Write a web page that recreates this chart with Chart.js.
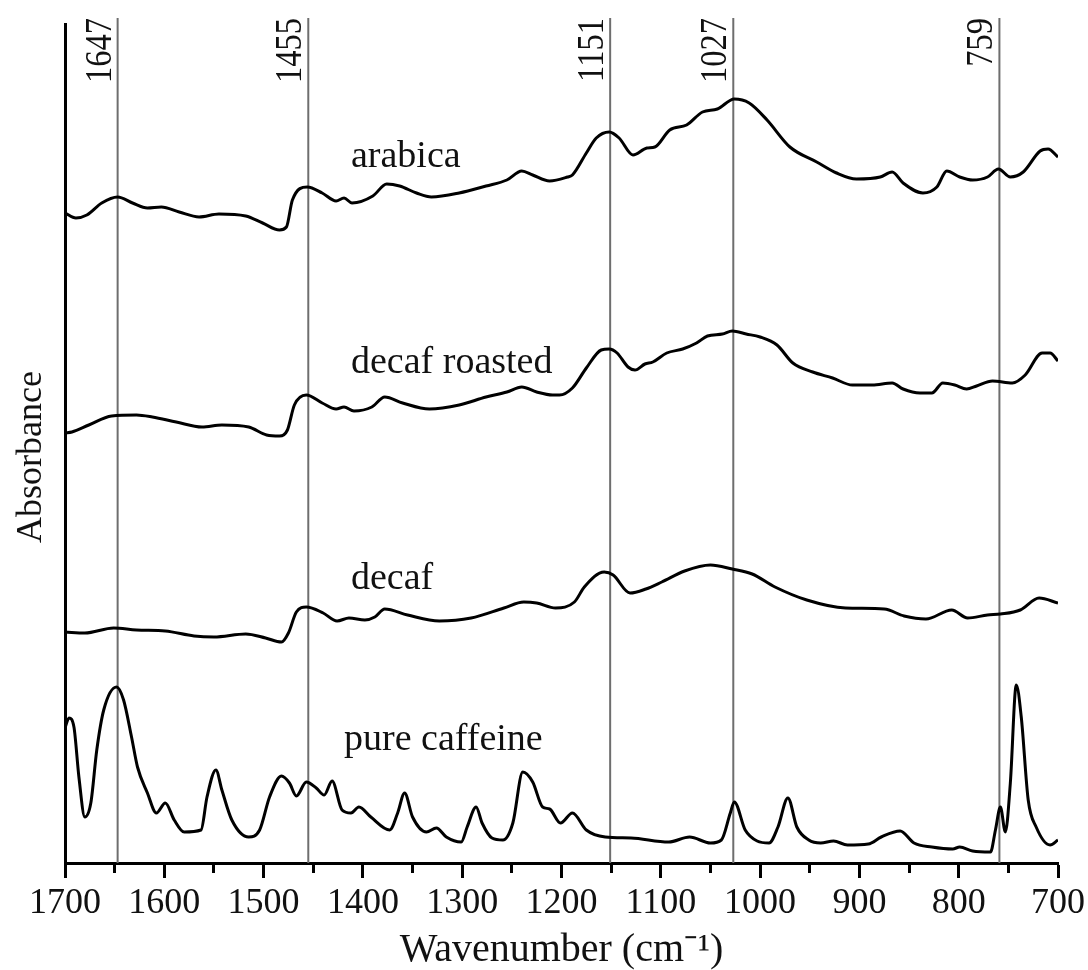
<!DOCTYPE html>
<html><head><meta charset="utf-8">
<script src="https://cdn.jsdelivr.net/npm/chart.js@4.4.0/dist/chart.umd.min.js"></script>
<style>html,body{margin:0;padding:0;background:#fff;}</style>
</head><body>
<canvas id="c" width="1088" height="970"></canvas>
<script>
// ---- data (wavenumber in cm-1, absorbance in arbitrary offset units) ----
const xTickValues = [700,750,800,850,900,950,1000,1050,1100,1150,1200,1250,1300,1350,1400,1450,1500,1550,1600,1650,1700];
const xTickLabels = ['700','','800','','900','','1000','','1100','','1200','','1300','','1400','','1500','','1600','','1700'];
const markerWn = [1647, 1455, 1151, 1027, 759];
const markerLabels = ['1647', '1455', '1151', '1027', '759'];
const seriesNames = ['arabica', 'decaf roasted', 'decaf', 'pure caffeine'];
const labelWn = [1412, 1412, 1412, 1419];
const labelAbs = [6.96, 4.90, 2.74, 1.13];

const arabicaWn = [1700,1689,1678,1663,1647,1632,1617,1603,1585,1565,1545,1518,1501,1484,1477,1471,1456,1441,1427,1419,1411,1390,1376,1363,1346,1331,1303,1276,1255,1240,1229,1212,1194,1189,1175,1165,1152,1142,1128,1114,1106,1091,1074,1058,1043,1026,1011,993,970,943,923,903,879,867,856,836,822,812,799,786,771,760,748,735,718,710,700];
const arabicaAbs = [6.50,6.45,6.48,6.60,6.66,6.60,6.55,6.56,6.51,6.46,6.49,6.47,6.40,6.33,6.36,6.63,6.76,6.70,6.62,6.65,6.60,6.67,6.79,6.77,6.70,6.66,6.70,6.77,6.83,6.92,6.88,6.82,6.86,6.88,7.10,7.25,7.31,7.25,7.08,7.15,7.16,7.33,7.38,7.51,7.54,7.64,7.60,7.43,7.16,7.01,6.90,6.84,6.86,6.91,6.80,6.70,6.76,6.92,6.86,6.83,6.86,6.94,6.86,6.91,7.12,7.14,7.06];

const roastedWn = [1700,1693,1676,1653,1628,1612,1588,1562,1542,1515,1497,1484,1476,1469,1457,1441,1427,1419,1409,1391,1378,1360,1333,1303,1276,1255,1240,1225,1209,1202,1189,1175,1160,1152,1144,1133,1126,1116,1108,1094,1078,1064,1053,1038,1028,1014,1000,983,967,947,927,907,887,867,856,839,827,816,804,792,782,766,746,733,716,708,700];
const roastedAbs = [4.30,4.31,4.38,4.47,4.48,4.46,4.41,4.36,4.38,4.36,4.28,4.27,4.33,4.58,4.68,4.60,4.54,4.56,4.52,4.56,4.66,4.60,4.54,4.58,4.66,4.71,4.76,4.71,4.68,4.68,4.75,4.95,5.13,5.14,5.10,4.96,4.93,4.99,5.01,5.10,5.14,5.20,5.27,5.29,5.32,5.29,5.26,5.18,5.00,4.91,4.85,4.78,4.78,4.80,4.74,4.70,4.70,4.80,4.78,4.74,4.77,4.82,4.80,4.88,5.10,5.10,5.02];

const decafWn = [1700,1680,1651,1628,1599,1570,1550,1518,1498,1482,1475,1467,1457,1440,1426,1414,1398,1388,1378,1355,1323,1291,1258,1238,1225,1206,1187,1177,1157,1148,1131,1115,1099,1076,1050,1028,1008,985,953,914,875,855,833,807,791,771,758,738,719,700];
const decafAbs = [2.31,2.30,2.35,2.33,2.32,2.27,2.26,2.29,2.25,2.21,2.30,2.51,2.56,2.50,2.42,2.45,2.43,2.46,2.54,2.48,2.42,2.45,2.55,2.61,2.60,2.55,2.61,2.76,2.91,2.88,2.70,2.74,2.81,2.92,2.98,2.94,2.89,2.76,2.63,2.55,2.54,2.47,2.44,2.53,2.45,2.48,2.49,2.53,2.65,2.60];

const caffeineWn = [1700,1696,1691,1686,1680,1674,1668,1661,1648,1641,1633,1627,1617,1608,1599,1590,1580,1563,1557,1548,1542,1532,1515,1504,1494,1482,1474,1467,1457,1447,1439,1431,1421,1412,1404,1392,1373,1365,1358,1350,1336,1326,1316,1301,1295,1286,1280,1270,1259,1249,1239,1229,1219,1212,1201,1189,1175,1156,1130,1092,1071,1050,1039,1030,1026,1015,1003,991,982,972,963,951,939,926,912,891,878,859,845,827,806,799,786,768,763,758,753,748,742,737,730,722,708,700];
const caffeineAbs = [1.35,1.45,1.36,0.86,0.46,0.60,1.13,1.53,1.76,1.63,1.26,0.96,0.70,0.50,0.60,0.43,0.31,0.33,0.66,0.93,0.73,0.43,0.26,0.33,0.66,0.87,0.80,0.67,0.81,0.75,0.68,0.82,0.53,0.50,0.56,0.46,0.33,0.50,0.70,0.46,0.31,0.35,0.26,0.21,0.36,0.56,0.40,0.25,0.23,0.40,0.91,0.81,0.56,0.54,0.40,0.50,0.33,0.26,0.25,0.21,0.26,0.20,0.23,0.50,0.61,0.33,0.22,0.20,0.36,0.65,0.36,0.23,0.20,0.22,0.18,0.19,0.26,0.32,0.20,0.16,0.14,0.16,0.12,0.11,0.33,0.56,0.31,0.80,1.78,1.46,0.63,0.36,0.18,0.23];

const yMin = 0, yMax = 8.39, markerTop = 8.45;

// ---- build datasets ----
const pairs = (xs, ys) => xs.map((x, i) => ({x: x, y: ys[i]}));
const curveSets = [
  [arabicaWn, arabicaAbs], [roastedWn, roastedAbs], [decafWn, decafAbs], [caffeineWn, caffeineAbs]
].map((s, i) => ({
  label: seriesNames[i], data: pairs(s[0], s[1]),
  borderColor: '#000', borderWidth: 3, pointRadius: 0, fill: false,
  cubicInterpolationMode: 'monotone', order: 0
}));
const markerSets = markerWn.map((m, i) => ({
  label: markerLabels[i], data: [{x: m, y: yMin}, {x: m, y: markerTop}],
  borderColor: '#6e6e6e', borderWidth: 2, pointRadius: 0, fill: false, clip: false, order: 1
}));

const SERIF = '"Liberation Serif", "Times New Roman", serif';
const labelFor = v => { const i = xTickValues.indexOf(Math.round(v)); return i >= 0 ? xTickLabels[i] : ''; };
const isMinor = c => !!(c.tick && labelFor(c.tick.value) === '');

const textPlugin = {
  id: 'texts',
  afterDatasetsDraw(chart) {
    const {ctx, scales: {x, y}} = chart;
    ctx.save();
    ctx.fillStyle = '#111';
    // curve names
    ctx.font = '38px ' + SERIF;
    ctx.textAlign = 'left';
    ctx.textBaseline = 'alphabetic';
    seriesNames.forEach((n, i) => {
      ctx.fillText(n, x.getPixelForValue(labelWn[i]), y.getPixelForValue(labelAbs[i]));
    });
    // marker labels (rotated)
    const topPx = y.getPixelForValue(markerTop);
    markerWn.forEach((m, i) => {
      const px = x.getPixelForValue(m);
      ctx.save();
      ctx.translate(px - 7, topPx);
      ctx.rotate(-Math.PI / 2);
      ctx.scale(0.88, 1);
      ctx.font = '37px ' + SERIF;
      ctx.textAlign = 'right';
      ctx.textBaseline = 'alphabetic';
      ctx.fillText(markerLabels[i], 0, 0);
      ctx.restore();
    });
    ctx.restore();
  }
};

new Chart(document.getElementById('c'), {
  type: 'line',
  data: {datasets: curveSets.concat(markerSets)},
  options: {
    responsive: false, animation: false, devicePixelRatio: 1,
    layout: {padding: {top: 24, right: 30, left: 0, bottom: 0}},
    plugins: {legend: {display: false}, tooltip: {enabled: false}},
    scales: {
      x: {
        type: 'linear', reverse: true, min: 700, max: 1700,
        afterBuildTicks: s => { s.ticks = xTickValues.map(v => ({value: v})); },
        ticks: {
          autoSkip: false, maxRotation: 0, minRotation: 0, padding: 4,
          color: '#111', font: {family: SERIF, size: 36},
          callback: v => labelFor(v)
        },
        grid: {
          display: true, drawOnChartArea: false, drawTicks: true,
          tickLength: 15, tickWidth: 3, tickColor: '#000',
          tickBorderDash: c => (isMinor(c) ? [8, 200] : [])
        },
        border: {display: true, width: 3, color: '#000'},
        title: {display: true, text: 'Wavenumber (cm\u207B\u00B9)', color: '#111',
          font: {family: SERIF, size: 40, lineHeight: 1}, padding: {top: 0, bottom: 0}},
        afterFit: s => { s.height = 107; }
      },
      y: {
        type: 'linear', min: yMin, max: yMax,
        ticks: {display: false},
        grid: {display: false},
        border: {display: true, width: 3, color: '#000'},
        title: {display: true, text: 'Absorbance   ', color: '#111',
          font: {family: SERIF, size: 36, lineHeight: 1}, padding: {top: 14, bottom: 0}},
        afterFit: s => { s.width = 65; }
      }
    }
  },
  plugins: [textPlugin]
});
</script>
</body></html>
